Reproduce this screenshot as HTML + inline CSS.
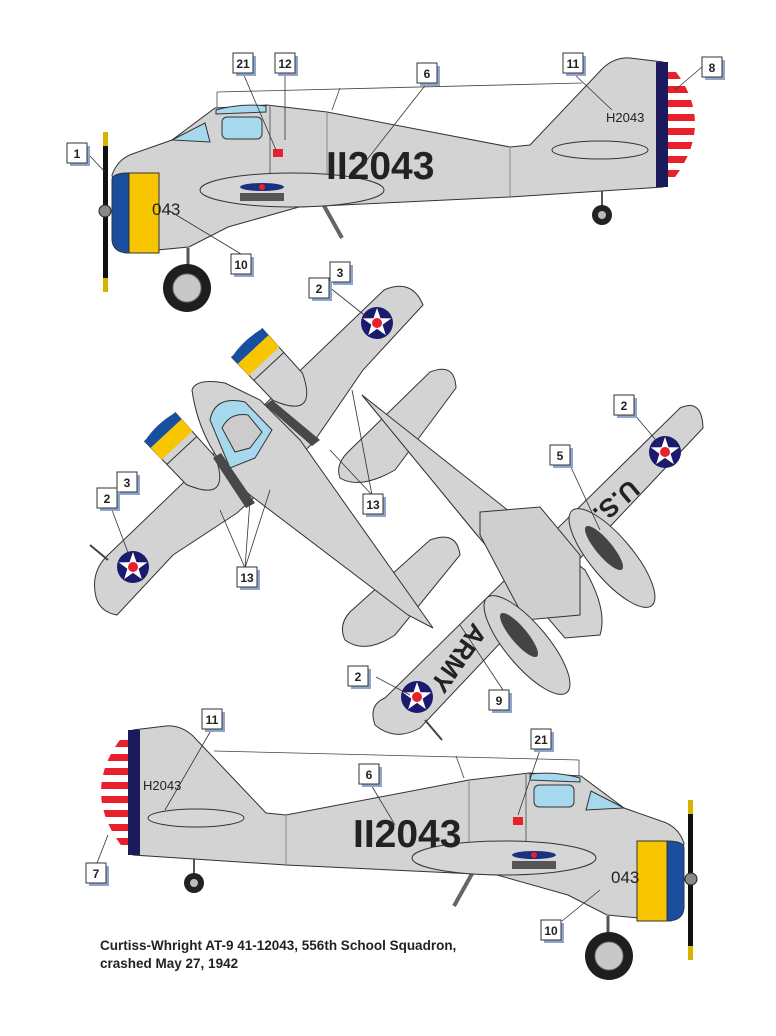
<!DOCTYPE html>
<html><head><meta charset="utf-8"><style>
html,body{margin:0;padding:0;background:#fff;}
svg{display:block}
.lb{font-family:"Liberation Sans",sans-serif;font-size:12px;font-weight:bold;fill:#222}
</style></head><body>
<svg width="776" height="1036" viewBox="0 0 776 1036" xmlns="http://www.w3.org/2000/svg">
<defs>
<clipPath id="rc"><path d="M668,62 Q722,123 668,186 Z"/></clipPath>
<g id="rnd">
  <circle r="16" fill="#1a1a6e"/>
  <polygon points="0,-15 3.5,-4.8 14.3,-4.6 5.6,1.8 8.8,12.1 0,5.9 -8.8,12.1 -5.6,1.8 -14.3,-4.6 -3.5,-4.8" fill="#fff"/>
  <circle r="5" fill="#e8202a"/>
</g>
<g id="side">
  <line x1="188" y1="248" x2="188" y2="268" stroke="#555" stroke-width="3"/>
  <circle cx="187" cy="288" r="24" fill="#1e1e1e"/>
  <circle cx="187" cy="288" r="14" fill="#c8c8c8" stroke="#777"/>
  <line x1="602" y1="188" x2="602" y2="208" stroke="#555" stroke-width="2"/>
  <circle cx="602" cy="215" r="10" fill="#222"/><circle cx="602" cy="215" r="4" fill="#bbb"/>
  <line x1="318" y1="195" x2="342" y2="238" stroke="#666" stroke-width="4"/>
  <line x1="217" y1="92" x2="582" y2="83" stroke="#444" stroke-width="0.8"/>
  <line x1="217" y1="92" x2="217" y2="108" stroke="#444" stroke-width="0.8"/>
  <line x1="340" y1="88" x2="332" y2="110" stroke="#444" stroke-width="0.8"/>
  <path d="M112,175 Q118,158 135,153 L172,140 L215,108 L267,105 L327,112 L510,147 L530,145 L603,68 Q615,57 630,58 L663,62 L663,187 L510,197 L299,207 L228,227 L189,247 L125,253 Z" fill="#d3d3d3" stroke="#333" stroke-width="1"/>
  <path d="M172,140 L205,123 L210,142 Z" fill="#a6d8ee" stroke="#333"/>
  <path d="M216,110 Q240,103 266,106 L266,112 L216,114 Z" fill="#a6d8ee" stroke="#333"/>
  <rect x="222" y="117" width="40" height="22" rx="5" fill="#a6d8ee" stroke="#333"/>
  <line x1="270" y1="105" x2="270" y2="178" stroke="#666"/>
  <line x1="327" y1="112" x2="327" y2="175" stroke="#888"/>
  <line x1="510" y1="147" x2="510" y2="197" stroke="#888"/>
  <ellipse cx="292" cy="190" rx="92" ry="17" fill="#d6d6d6" stroke="#333"/>
  <ellipse cx="600" cy="150" rx="48" ry="9" fill="#d6d6d6" stroke="#333"/>
  <path d="M129,173 L159,173 L159,253 L129,253 Z" fill="#f7c600" stroke="#333"/>
  <path d="M112,180 Q112,173 129,173 L129,253 Q113,253 112,240 Z" fill="#1a4fa0" stroke="#333"/>
  <rect x="103" y="132" width="5" height="160" fill="#111"/>
  <rect x="103" y="132" width="5" height="14" fill="#d8b400"/>
  <rect x="103" y="278" width="5" height="14" fill="#d8b400"/>
  <circle cx="105" cy="211" r="6" fill="#888" stroke="#222"/>
  <g clip-path="url(#rc)">
    <rect x="668" y="60" width="60" height="130" fill="#fff"/>
    <g fill="#e8202a">
      <rect x="668" y="72" width="60" height="7"/><rect x="668" y="86" width="60" height="7"/>
      <rect x="668" y="100" width="60" height="7"/><rect x="668" y="114" width="60" height="7"/>
      <rect x="668" y="128" width="60" height="7"/><rect x="668" y="142" width="60" height="7"/>
      <rect x="668" y="156" width="60" height="7"/><rect x="668" y="170" width="60" height="7"/>
    </g>
  </g>
  <path d="M656,62 L668,62 L668,187 L656,187 Z" fill="#1a1a5c"/>
  <ellipse cx="262" cy="187" rx="22" ry="4" fill="#1a3080"/>
  <circle cx="262" cy="187" r="3" fill="#e8202a"/>
  <rect x="240" y="193" width="44" height="8" fill="#555"/>
  <rect x="273" y="149" width="10" height="8" fill="#e8202a"/>
</g>
<g id="nac">
  <path d="M0,-21 L60,-20 Q105,0 60,20 L0,21 Z" fill="#d3d3d3" stroke="#333"/>
  <path d="M0,-21 L9,-21 L9,21 L0,21 Q-5,0 0,-21 Z" fill="#1a4fa0"/>
  <rect x="9" y="-21" width="16" height="42" fill="#f7c600"/>
  <line x1="32" y1="-21" x2="32" y2="21" stroke="#333"/>
</g>
</defs>

<use href="#side"/>
<use href="#side" transform="translate(796,668) scale(-1,1)"/>

<text x="326" y="179" font-family="Liberation Sans,sans-serif" font-size="39" font-weight="bold" fill="#222">II2043</text>
<text x="152" y="215" font-family="Liberation Sans,sans-serif" font-size="17" fill="#222">043</text>
<text x="606" y="122" font-family="Liberation Sans,sans-serif" font-size="13" fill="#222">H2043</text>
<text x="353" y="847" font-family="Liberation Sans,sans-serif" font-size="39" font-weight="bold" fill="#222">II2043</text>
<text x="611" y="883" font-family="Liberation Sans,sans-serif" font-size="17" fill="#222">043</text>
<text x="143" y="790" font-family="Liberation Sans,sans-serif" font-size="13" fill="#222">H2043</text>

<path d="M340,478 Q335,465 348,452 L430,372 Q455,362 456,388 L395,470 Q360,490 340,478 Z" fill="#d3d3d3" stroke="#333"/>
<path d="M96,597 Q90,572 108,555 L384,290 Q412,278 423,305 L363,370 L313,443 L237,513 L173,555 L117,615 Q100,612 96,597 Z" fill="#d3d3d3" stroke="#333"/>
<path d="M345,640 Q338,625 350,612 L430,540 Q457,530 460,555 L395,635 Q365,655 345,640 Z" fill="#d3d3d3" stroke="#333"/>
<path d="M192,390 Q196,378 225,383 L260,400 L300,440 L433,628 L408,615 L250,495 Q200,450 192,390 Z" fill="#d3d3d3" stroke="#333"/>
<path d="M210,420 Q215,395 245,402 L272,430 L255,458 L230,468 Z" fill="#a6d8ee" stroke="#333"/>
<path d="M222,428 Q230,412 248,415 L262,432 L250,448 L235,452 Z" fill="#ccc" stroke="#333"/>
<use href="#nac" transform="translate(247,343) rotate(47)"/>
<use href="#nac" transform="translate(160,427) rotate(47)"/>
<path d="M265,405 L272,400 L320,440 L312,446 Z" fill="#484848"/>
<path d="M213,458 L221,453 L255,503 L246,508 Z" fill="#484848"/>
<use href="#rnd" transform="translate(377,323)"/>
<use href="#rnd" transform="translate(133,567)"/>
<line x1="90" y1="545" x2="108" y2="560" stroke="#444" stroke-width="2"/>

<path d="M362,395 L480,510 L477,535 Z" fill="#d3d3d3" stroke="#333"/>
<path d="M375,725 Q368,705 385,698 L680,408 Q702,398 703,428 L420,728 Q395,742 375,725 Z" fill="#d3d3d3" stroke="#333"/>
<path d="M362,395 L505,508 L585,570 Q608,610 600,635 L565,638 L477,535 Z" fill="#d3d3d3" stroke="#333"/>
<path d="M480,512 L540,507 L580,555 L580,615 L525,620 L480,535 Z" fill="#cfcfcf" stroke="#333"/>
<ellipse cx="612" cy="558" rx="62" ry="21" transform="rotate(50 612 558)" fill="#d3d3d3" stroke="#333"/>
<ellipse cx="604" cy="548" rx="28" ry="8" transform="rotate(50 604 548)" fill="#444"/>
<ellipse cx="527" cy="645" rx="62" ry="21" transform="rotate(50 527 645)" fill="#d3d3d3" stroke="#333"/>
<ellipse cx="519" cy="635" rx="28" ry="8" transform="rotate(50 519 635)" fill="#444"/>
<use href="#rnd" transform="translate(665,452)"/>
<use href="#rnd" transform="translate(417,697)"/>
<line x1="425" y1="720" x2="442" y2="740" stroke="#444" stroke-width="2"/>
<text transform="translate(615,500) rotate(140)" text-anchor="middle" dominant-baseline="middle" font-family="Liberation Sans,sans-serif" font-size="26" font-weight="bold" fill="#222">U.S.</text>
<text transform="translate(457,657) rotate(125)" text-anchor="middle" dominant-baseline="middle" font-family="Liberation Sans,sans-serif" font-size="26" font-weight="bold" fill="#222">ARMY</text>

<g stroke="#333" stroke-width="0.8" fill="none">
  <line x1="87" y1="153" x2="105" y2="172"/>
  <line x1="243" y1="73" x2="276" y2="150"/>
  <line x1="285" y1="73" x2="285" y2="140"/>
  <line x1="427" y1="83" x2="355" y2="175"/>
  <line x1="573" y1="73" x2="612" y2="110"/>
  <line x1="702" y1="67" x2="675" y2="90"/>
  <line x1="241" y1="254" x2="168" y2="210"/>
  <line x1="329" y1="287" x2="368" y2="318"/>
  <line x1="112" y1="510" x2="130" y2="558"/>
  <line x1="352" y1="390" x2="372" y2="495"/>
  <line x1="330" y1="450" x2="372" y2="495"/>
  <line x1="250" y1="500" x2="245" y2="568"/>
  <line x1="220" y1="510" x2="245" y2="568"/>
  <line x1="270" y1="490" x2="245" y2="568"/>
  <line x1="634" y1="414" x2="660" y2="445"/>
  <line x1="570" y1="465" x2="600" y2="530"/>
  <line x1="376" y1="677" x2="410" y2="695"/>
  <line x1="503" y1="690" x2="460" y2="625"/>
  <line x1="213" y1="727" x2="165" y2="810"/>
  <line x1="370" y1="783" x2="395" y2="825"/>
  <line x1="541" y1="747" x2="518" y2="815"/>
  <line x1="97" y1="863" x2="108" y2="835"/>
  <line x1="562" y1="921" x2="600" y2="890"/>
</g>

<g>
<g transform="translate(67,143)"><rect x="3" y="3" width="20" height="20" fill="#8ea6cc"/><rect width="20" height="20" fill="#fff" stroke="#333"/><text x="10" y="15" class="lb" text-anchor="middle">1</text></g>
<g transform="translate(233,53)"><rect x="3" y="3" width="20" height="20" fill="#8ea6cc"/><rect width="20" height="20" fill="#fff" stroke="#333"/><text x="10" y="15" class="lb" text-anchor="middle">21</text></g>
<g transform="translate(275,53)"><rect x="3" y="3" width="20" height="20" fill="#8ea6cc"/><rect width="20" height="20" fill="#fff" stroke="#333"/><text x="10" y="15" class="lb" text-anchor="middle">12</text></g>
<g transform="translate(417,63)"><rect x="3" y="3" width="20" height="20" fill="#8ea6cc"/><rect width="20" height="20" fill="#fff" stroke="#333"/><text x="10" y="15" class="lb" text-anchor="middle">6</text></g>
<g transform="translate(563,53)"><rect x="3" y="3" width="20" height="20" fill="#8ea6cc"/><rect width="20" height="20" fill="#fff" stroke="#333"/><text x="10" y="15" class="lb" text-anchor="middle">11</text></g>
<g transform="translate(702,57)"><rect x="3" y="3" width="20" height="20" fill="#8ea6cc"/><rect width="20" height="20" fill="#fff" stroke="#333"/><text x="10" y="15" class="lb" text-anchor="middle">8</text></g>
<g transform="translate(231,254)"><rect x="3" y="3" width="20" height="20" fill="#8ea6cc"/><rect width="20" height="20" fill="#fff" stroke="#333"/><text x="10" y="15" class="lb" text-anchor="middle">10</text></g>
<g transform="translate(330,262)"><rect x="3" y="3" width="20" height="20" fill="#8ea6cc"/><rect width="20" height="20" fill="#fff" stroke="#333"/><text x="10" y="15" class="lb" text-anchor="middle">3</text></g>
<g transform="translate(309,278)"><rect x="3" y="3" width="20" height="20" fill="#8ea6cc"/><rect width="20" height="20" fill="#fff" stroke="#333"/><text x="10" y="15" class="lb" text-anchor="middle">2</text></g>
<g transform="translate(117,472)"><rect x="3" y="3" width="20" height="20" fill="#8ea6cc"/><rect width="20" height="20" fill="#fff" stroke="#333"/><text x="10" y="15" class="lb" text-anchor="middle">3</text></g>
<g transform="translate(97,488)"><rect x="3" y="3" width="20" height="20" fill="#8ea6cc"/><rect width="20" height="20" fill="#fff" stroke="#333"/><text x="10" y="15" class="lb" text-anchor="middle">2</text></g>
<g transform="translate(363,494)"><rect x="3" y="3" width="20" height="20" fill="#8ea6cc"/><rect width="20" height="20" fill="#fff" stroke="#333"/><text x="10" y="15" class="lb" text-anchor="middle">13</text></g>
<g transform="translate(237,567)"><rect x="3" y="3" width="20" height="20" fill="#8ea6cc"/><rect width="20" height="20" fill="#fff" stroke="#333"/><text x="10" y="15" class="lb" text-anchor="middle">13</text></g>
<g transform="translate(614,395)"><rect x="3" y="3" width="20" height="20" fill="#8ea6cc"/><rect width="20" height="20" fill="#fff" stroke="#333"/><text x="10" y="15" class="lb" text-anchor="middle">2</text></g>
<g transform="translate(550,445)"><rect x="3" y="3" width="20" height="20" fill="#8ea6cc"/><rect width="20" height="20" fill="#fff" stroke="#333"/><text x="10" y="15" class="lb" text-anchor="middle">5</text></g>
<g transform="translate(348,666)"><rect x="3" y="3" width="20" height="20" fill="#8ea6cc"/><rect width="20" height="20" fill="#fff" stroke="#333"/><text x="10" y="15" class="lb" text-anchor="middle">2</text></g>
<g transform="translate(489,690)"><rect x="3" y="3" width="20" height="20" fill="#8ea6cc"/><rect width="20" height="20" fill="#fff" stroke="#333"/><text x="10" y="15" class="lb" text-anchor="middle">9</text></g>
<g transform="translate(202,709)"><rect x="3" y="3" width="20" height="20" fill="#8ea6cc"/><rect width="20" height="20" fill="#fff" stroke="#333"/><text x="10" y="15" class="lb" text-anchor="middle">11</text></g>
<g transform="translate(359,764)"><rect x="3" y="3" width="20" height="20" fill="#8ea6cc"/><rect width="20" height="20" fill="#fff" stroke="#333"/><text x="10" y="15" class="lb" text-anchor="middle">6</text></g>
<g transform="translate(531,729)"><rect x="3" y="3" width="20" height="20" fill="#8ea6cc"/><rect width="20" height="20" fill="#fff" stroke="#333"/><text x="10" y="15" class="lb" text-anchor="middle">21</text></g>
<g transform="translate(86,863)"><rect x="3" y="3" width="20" height="20" fill="#8ea6cc"/><rect width="20" height="20" fill="#fff" stroke="#333"/><text x="10" y="15" class="lb" text-anchor="middle">7</text></g>
<g transform="translate(541,920)"><rect x="3" y="3" width="20" height="20" fill="#8ea6cc"/><rect width="20" height="20" fill="#fff" stroke="#333"/><text x="10" y="15" class="lb" text-anchor="middle">10</text></g>
</g>

<text x="100" y="950" font-family="Liberation Sans,sans-serif" font-size="13.5" font-weight="bold" fill="#222">Curtiss-Whright AT-9 41-12043, 556th School Squadron,</text>
<text x="100" y="968" font-family="Liberation Sans,sans-serif" font-size="13.5" font-weight="bold" fill="#222">crashed May 27, 1942</text>
</svg>
</body></html>
